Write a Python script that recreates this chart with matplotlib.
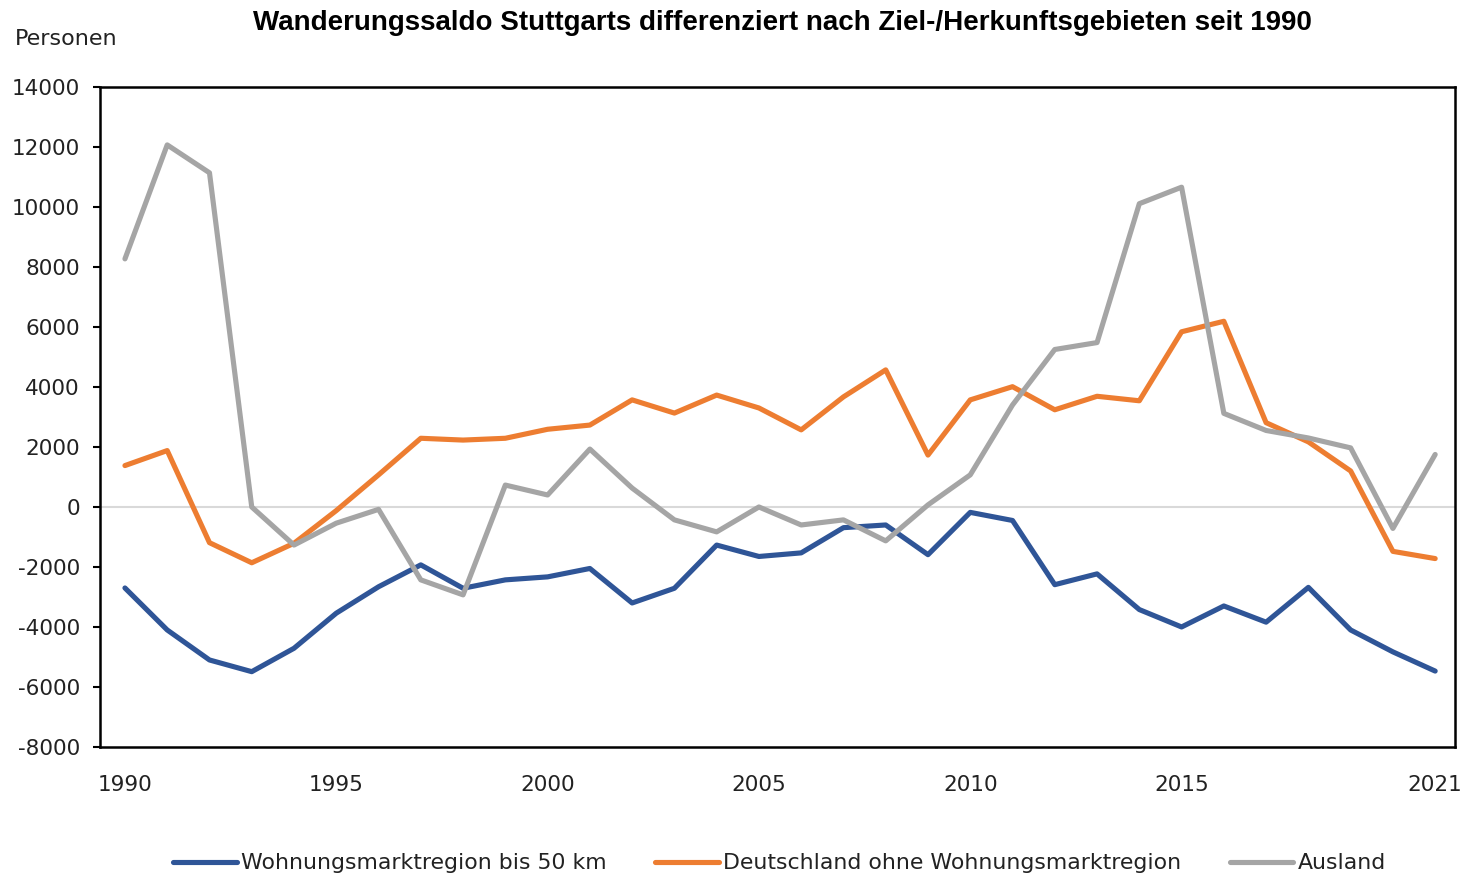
import matplotlib
matplotlib.use("Agg")
import matplotlib.pyplot as plt

years = list(range(1990, 2022))

wohnungsmarkt = [-2700, -4100, -5100, -5490, -4710, -3540, -2660, -1930, -2710, -2430,
                 -2330, -2050, -3200, -2710, -1270, -1650, -1530, -690, -600, -1590,
                 -180, -450, -2590, -2230, -3420, -4000, -3300, -3840, -2680, -4100,
                 -4830, -5470]
deutschland = [1380, 1880, -1190, -1860, -1210, -120, 1070, 2290, 2230, 2290,
               2590, 2730, 3570, 3130, 3730, 3300, 2570, 3670, 4570, 1730,
               3570, 4010, 3240, 3690, 3540, 5840, 6190, 2810, 2170, 1200,
               -1480, -1720]
ausland = [8270, 12070, 11140, 0, -1270, -540, -80, -2430, -2930, 730,
           400, 1930, 630, -430, -830, 0, -600, -430, -1130, 70,
           1070, 3400, 5250, 5480, 10110, 10660, 3120, 2550, 2300, 1970,
           -715, 1750]

series_names = ["Wohnungsmarktregion bis 50 km", "Deutschland ohne Wohnungsmarktregion", "Ausland"]
colors = ["#2F5597", "#ED7D31", "#A5A5A5"]
xtick_vals = [1990, 1995, 2000, 2005, 2010, 2015, 2021]
ytick_vals = list(range(-8000, 14001, 2000))

title = "Wanderungssaldo Stuttgarts differenziert nach Ziel-/Herkunftsgebieten seit 1990"

plt.rcParams['font.family'] = ['DejaVu Sans']

fig = plt.figure(figsize=(14.6, 8.76), dpi=100)
ax = fig.add_axes([0.0685, 0.1473, 0.9281, 0.7534])

ax.axhline(0, color="#D9D9D9", lw=1.5, zorder=1)
for vals, name, c in zip([wohnungsmarkt, deutschland, ausland], series_names, colors):
    ax.plot(years, vals, color=c, lw=3.7, label=name, zorder=3,
            solid_joinstyle='round', solid_capstyle='round')

ax.set_xlim(1989.41, 2021.47)
ax.set_ylim(-8000, 14000)
ax.set_yticks(ytick_vals)
ax.set_yticklabels([str(v) for v in ytick_vals], fontsize=15.5, color="#222222")
ax.set_xticks(xtick_vals)
ax.set_xticklabels([str(v) for v in xtick_vals], fontsize=15.5, color="#222222")
ax.tick_params(axis='y', length=5, width=1.5, color='black', pad=9.5)
ax.tick_params(axis='x', length=0, pad=20)
for sp in ax.spines.values():
    sp.set_linewidth(1.8)
    sp.set_color('black')

fig.text(0.0103, 0.956, "Personen", fontsize=16, color="#222222", va='center', ha='left')
fig.text(0.5356, 0.9735, title, fontsize=20, fontweight='bold', family=['Liberation Sans', 'DejaVu Sans'],
         ha='center', va='center', color='black')

leg = fig.legend(loc='center', bbox_to_anchor=(0.534, 0.0145), ncol=3, frameon=False,
                 fontsize=15.8, handlelength=2.9, handletextpad=0.2, columnspacing=2.2)
for t in leg.get_texts():
    t.set_color("#222222")

fig.savefig("out.png", dpi=100)
